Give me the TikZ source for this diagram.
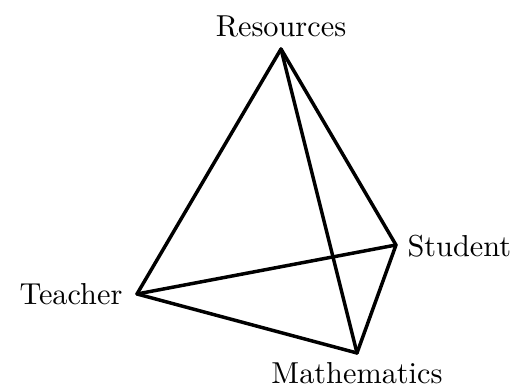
\documentclass[tikz,border=0pt]{standalone}
\usepackage{amsmath}
\usepackage{tikz}
\usetikzlibrary{calc}
\tikzstyle{vlabel} = [inner sep=0pt]
\tikzstyle{edge} = [line width=1.15pt, line cap=round]

\begin{document}
\begin{tikzpicture}[x=0.33pt, y=-0.33pt]
\useasboundingbox (0,0) rectangle (514,387);

    \coordinate (res) at (281,49);
    \coordinate (stu) at (396,245);
    \coordinate (tea) at (137,294);
    \coordinate (mat) at (357,353);

    \node[vlabel, anchor=base] (resl) at (281,37) {Resources};
    \node[vlabel, anchor=base west] (stul) at (407,257) {Student};
    \node[vlabel, anchor=base east] (teal) at (123,305) {Teacher};
    \node[vlabel, anchor=base] (matl) at (357,384) {Mathematics};

\foreach \a/\b in {res/tea, res/stu, res/mat, tea/stu, tea/mat, stu/mat} {
    \draw[edge] (\a) -- (\b);
}
\end{tikzpicture}
\end{document}
